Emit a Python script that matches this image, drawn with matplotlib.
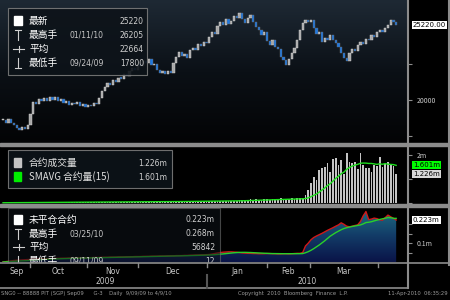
import numpy as np
import pandas as pd
import matplotlib
matplotlib.use("Agg")
import matplotlib.pyplot as plt
import matplotlib.transforms as mtransforms
from matplotlib.colors import LinearSegmentedColormap
from matplotlib.patches import Rectangle

plt.rcParams['font.family'] = ['Noto Sans CJK SC', 'DejaVu Sans']

# daily closes, 9/09/09 .. 4/09/10, one per trading day
close = [
    18610, 18420, 18700, 18380, 18250, 18020, 17880, 18100, 17960, 18240,
    19050, 19880, 19700, 20050, 19900, 20150, 19960, 20220, 20000, 20180,
    19920, 20050, 19780, 19940, 19650, 19820, 19700, 19850, 19560, 19700,
    19480, 19680, 19560, 19800, 19700, 20150, 20600, 20900, 21150, 21020,
    21380, 21250, 21560, 21480, 21800, 21700, 22050, 22200, 22100, 22480,
    22350, 22740, 22600, 22820, 22450, 22500, 22100, 21850, 22050, 21780,
    22000, 21900, 22600, 23000, 23350, 23050, 23200, 22950, 23450, 23600,
    23500, 23900, 23750, 24050, 23950, 24400, 24750, 24600, 25150, 25400,
    25250, 25650, 25300, 25500, 25850, 25700, 26080, 25650, 25380, 25720,
    25950, 25450, 25100, 24850, 24500, 24700, 24100, 23850, 24150, 23700,
    23550, 23000, 22750, 22450, 22850, 23300, 23650, 24200, 24850, 25350,
    25600, 25400, 25550, 25000, 24600, 24750, 24050, 24300, 24150, 24500,
    24200, 24000, 23700, 23300, 22950, 22700, 23250, 23550, 23400, 23850,
    24050, 23900, 24250, 24150, 24500, 24400, 24750, 24900, 24700, 25000,
    25250, 25550, 25400, 25220]

# contract volume, millions
volume = [
    0.01, 0.01, 0.02, 0.01, 0.02, 0.02, 0.03, 0.02, 0.02, 0.03,
    0.02, 0.03, 0.03, 0.02, 0.03, 0.03, 0.02, 0.03, 0.04, 0.03,
    0.03, 0.04, 0.03, 0.03, 0.04, 0.03, 0.04, 0.04, 0.03, 0.04,
    0.04, 0.03, 0.04, 0.05, 0.04, 0.04, 0.05, 0.04, 0.05, 0.04,
    0.05, 0.05, 0.04, 0.05, 0.05, 0.06, 0.05, 0.05, 0.06, 0.05,
    0.05, 0.06, 0.06, 0.05, 0.06, 0.06, 0.05, 0.06, 0.07, 0.06,
    0.06, 0.07, 0.06, 0.07, 0.07, 0.06, 0.07, 0.08, 0.07, 0.07,
    0.08, 0.07, 0.08, 0.08, 0.07, 0.09, 0.08, 0.09, 0.08, 0.09,
    0.09, 0.10, 0.09, 0.10, 0.10, 0.09, 0.11, 0.12, 0.14, 0.13,
    0.15, 0.12, 0.16, 0.14, 0.13, 0.17, 0.15, 0.14, 0.18, 0.16,
    0.15, 0.19, 0.17, 0.16, 0.18, 0.20, 0.17, 0.19, 0.21, 0.22,
    0.33, 0.54, 0.83, 1.08, 0.95, 1.37, 1.46, 1.50, 1.67, 1.30,
    1.83, 1.87, 1.58, 1.79, 1.20, 2.08, 1.71, 1.67, 1.71, 1.40,
    2.08, 1.58, 1.46, 1.46, 1.29, 1.58, 1.55, 1.92, 1.50, 1.62,
    1.71, 1.60, 1.55, 1.226]

# open interest, millions
open_int = [
    0.00001, 0.002, 0.004, 0.006, 0.008, 0.009, 0.010, 0.011, 0.012, 0.013,
    0.014, 0.015, 0.015, 0.016, 0.016, 0.017, 0.017, 0.018, 0.018, 0.019,
    0.019, 0.020, 0.020, 0.020, 0.021, 0.021, 0.021, 0.022, 0.022, 0.022,
    0.023, 0.023, 0.023, 0.024, 0.024, 0.024, 0.025, 0.025, 0.025, 0.026,
    0.026, 0.026, 0.027, 0.027, 0.027, 0.028, 0.028, 0.028, 0.029, 0.029,
    0.029, 0.030, 0.030, 0.030, 0.031, 0.031, 0.031, 0.032, 0.032, 0.032,
    0.033, 0.033, 0.033, 0.034, 0.034, 0.034, 0.035, 0.035, 0.036, 0.036,
    0.037, 0.037, 0.038, 0.038, 0.039, 0.040, 0.042, 0.045, 0.048, 0.050,
    0.052, 0.053, 0.054, 0.054, 0.053, 0.052, 0.050, 0.048, 0.047, 0.046,
    0.046, 0.045, 0.045, 0.044, 0.044, 0.044, 0.045, 0.045, 0.044, 0.044,
    0.043, 0.043, 0.044, 0.044, 0.043, 0.044, 0.045, 0.046, 0.046, 0.050,
    0.085, 0.100, 0.118, 0.130, 0.138, 0.145, 0.152, 0.160, 0.168, 0.175,
    0.182, 0.190, 0.197, 0.208, 0.200, 0.190, 0.187, 0.190, 0.194, 0.197,
    0.215, 0.245, 0.268, 0.225, 0.228, 0.233, 0.230, 0.224, 0.222, 0.235,
    0.249, 0.240, 0.232, 0.223]

# trading-day index where each month starts
month_starts = [0, 9.8, 30.5, 49.1, 74.2, 96, 111.6, 136.4]
month_names = ['Sep', 'Oct', 'Nov', 'Dec', 'Jan', 'Feb', 'Mar']
year_names = ['2009', '2010']

price_legend = [('最新', '', '25220'), ('最高手', '01/11/10', '26205'),
                ('平均', '', '22664'), ('最低手', '09/24/09', '17800')]
vol_legend = [('合约成交量', '1.226m'), ('SMAVG 合约量(15)', '1.601m')]
oi_legend = [('未平仓合约', '', '0.223m'), ('最高手', '03/25/10', '0.268m'),
             ('平均', '', '56842'), ('最低手', '09/11/09', '12')]

n = len(close)
x = np.arange(n)
opens = np.array([close[0]] + close[:-1])
closes = np.array(close)
vol_sma = pd.Series(volume).rolling(15, min_periods=1).mean()
oi_sma = pd.Series(open_int).rolling(10, min_periods=1).mean()

W, H = 450, 300
fig = plt.figure(figsize=(4.5, 3), dpi=100, facecolor='black')


def axes_px(l, t, r, b):
    return fig.add_axes([l / W, 1 - b / H, (r - l) / W, (b - t) / H])


ax_p = axes_px(0, 0, 408, 143)
ax_v = axes_px(0, 147, 408, 204)
ax_o = axes_px(0, 207, 408, 262)
xlim = (-1.1, 147.3)
grey = '#8c8c8c'

for ax in (ax_p, ax_v, ax_o):
    ax.set_facecolor('black')
    for s in ax.spines.values():
        s.set_visible(False)
    ax.yaxis.tick_right()
    ax.tick_params(axis='x', which='both', bottom=False, labelbottom=False)
    ax.tick_params(axis='y', which='both', colors=grey, labelcolor='#c8c8c8',
                   labelsize=5, length=3, width=0.8, pad=3)


def value_box(ax, y, s, fc, tc='black'):
    tr = mtransforms.blended_transform_factory(ax.transAxes, ax.transData)
    ax.text(1.012, y, s, transform=tr, fontsize=5, color=tc, va='center',
            ha='left', clip_on=False, family='DejaVu Sans',
            bbox=dict(boxstyle='square,pad=0.15', fc=fc, ec='none'))


# price panel
p_lo, p_hi = 17007, 26960
bg = LinearSegmentedColormap.from_list('bg', ['#030405', '#0b1016', '#1e2934'])
ax_p.imshow(np.linspace(0, 1, 200)[:, None], extent=[*xlim, p_lo, p_hi],
            origin='lower', aspect='auto', cmap=bg, zorder=0)
lo = np.minimum(closes, opens)
hgt = np.maximum(np.abs(closes - opens), 90)
up = closes >= opens
ax_p.bar(x[up], hgt[up], bottom=lo[up], width=0.85, color='#a8a8a8',
         edgecolor='#d8d8d8', linewidth=0.3, zorder=2)
ax_p.bar(x[~up], hgt[~up], bottom=lo[~up], width=0.85, color='#1f78e0',
         edgecolor='#6a6a6a', linewidth=0.3, zorder=2)
ax_p.set_xlim(xlim)
ax_p.set_ylim(p_lo, p_hi)
ax_p.set_yticks([20000], ['20000'])
ax_p.set_yticks([17500, 22500], minor=True)
value_box(ax_p, close[-1], f'{close[-1]:.2f}', 'white')

# volume panel
ax_v.bar(x, volume, width=0.6, color='#c4c4c4', edgecolor='none', zorder=2)
ax_v.plot(x, vol_sma, color='#1ee01e', lw=1, zorder=3)
ax_v.set_xlim(xlim)
ax_v.set_ylim(-0.042, 2.333)
ax_v.set_yticks([2.0], ['2m'])
ax_v.set_yticks([0, 1.0], minor=True)
value_box(ax_v, vol_sma.iloc[-1], vol_legend[1][1], '#00ff00')
value_box(ax_v, volume[-1], vol_legend[0][1], '#d8d8d8')

# open interest panel
oi_cm = LinearSegmentedColormap.from_list('oi', ['#0a1448', '#123a66', '#1d6a80'])
poly = ax_o.fill_between(x, 0, open_int, facecolor='none', edgecolor='none')
im = ax_o.imshow(np.linspace(0, 1, 200)[:, None],
                 extent=[x[0], x[-1], 0, max(open_int)], origin='lower',
                 aspect='auto', cmap=oi_cm, zorder=1)
im.set_clip_path(poly.get_paths()[0], transform=ax_o.transData)
ax_o.plot(x, open_int, color='#d01818', lw=1, zorder=3)
ax_o.plot(x, oi_sma, color='#2ad02a', lw=1, zorder=4)
ax_o.set_xlim(xlim)
ax_o.set_ylim(0, 0.292)
ax_o.set_yticks([0.1], ['0.1m'])
ax_o.set_yticks([0.05, 0.15, 0.2], minor=True)
value_box(ax_o, open_int[-1], oi_legend[0][2], 'white')

# overlay for frames, legends and date axis (pixel coords)
ov = fig.add_axes([0, 0, 1, 1], zorder=10)
ov.set_xlim(0, W)
ov.set_ylim(H, 0)
ov.axis('off')

ov.add_patch(Rectangle((0, 143), W, 3, color=grey, zorder=1))
ov.add_patch(Rectangle((0, 204), W, 3, color=grey, zorder=1))
ov.plot([407.5, 407.5], [0, 288], color=grey, lw=1.5, zorder=6)
ov.plot([448.5, 448.5], [0, 265], color=grey, lw=1.5, zorder=6)


def legend_box(l, t, r, b, alpha=0.9):
    ov.add_patch(Rectangle((l, t), r - l, b - t, fc='#0d1319', ec='#7a7a7a',
                           lw=0.8, alpha=alpha, zorder=2))


def legend_rows(rows, y0, dy, xv, sym):
    for i, (lab, date, val) in enumerate(rows):
        y = y0 + i * dy
        kind = sym[i]
        if kind == 'box':
            ov.add_patch(Rectangle((14, y - 5), 8, 9, color='white', zorder=3))
        elif kind == 'hi':
            ov.plot([15, 21], [y - 5, y - 5], color='#d0d0d0', lw=0.8, zorder=3)
            ov.plot([18, 18], [y - 5, y + 5], color='#d0d0d0', lw=0.8, zorder=3)
        elif kind == 'avg':
            ov.plot([13, 24], [y, y], color='#d0d0d0', lw=0.8, zorder=3)
            ov.plot([18.5, 18.5], [y - 3, y + 3], color='#d0d0d0', lw=0.8, zorder=3)
        elif kind == 'lo':
            ov.plot([15, 21], [y + 5, y + 5], color='#d0d0d0', lw=0.8, zorder=3)
            ov.plot([18, 18], [y - 5, y + 5], color='#d0d0d0', lw=0.8, zorder=3)
        ov.text(29, y, lab, fontsize=7, color='white', va='center', zorder=3)
        if date:
            ov.text(29 + 12 * len(lab) - 3 + 8, y, date, fontsize=5.5,
                    color='#c8c8c8', va='center', zorder=3, family='DejaVu Sans')
        ov.text(xv, y, val, fontsize=5.5, color='#d0d0d0', va='center',
                ha='right', zorder=3, family='DejaVu Sans')


sym = ['box', 'hi', 'avg', 'lo']
legend_box(8, 8, 147, 75)
legend_rows(price_legend, 21, 14, 144, sym)

legend_box(8, 150, 172, 188)
vol_cols = ['#c4c4c4', '#00ee00']
for i, (lab, val) in enumerate(vol_legend):
    y = 163 + i * 14
    ov.add_patch(Rectangle((14, y - 5), 7, 9, color=vol_cols[i], zorder=3))
    ov.text(29, y, lab, fontsize=7, color='#e0e0e0', va='center', zorder=3)
    ov.text(167, y, val, fontsize=5.5, color='#d0d0d0', va='center',
            ha='right', zorder=3, family='DejaVu Sans')

legend_box(8, 208, 220, 270, alpha=0.55)
legend_rows(oi_legend, 220, 13.7, 215, sym)

# date axis
ov.add_patch(Rectangle((0, 263), 407, 26, fc='black', ec='none', zorder=5))
ov.plot([0, W], [263, 263], color=grey, lw=1.2, zorder=6)
ov.plot([0, 407.5], [288, 288], color=grey, lw=1.2, zorder=6)
tr_d = mtransforms.blended_transform_factory(ax_o.transData, ov.transData)
for i, name in enumerate(month_names):
    mid = (month_starts[i] + month_starts[i + 1]) / 2
    ov.text(mid, 271, name, transform=tr_d, fontsize=5.5, color='#c8c8c8',
            ha='center', va='center', zorder=7, family='DejaVu Sans')
for m in month_starts[1:]:
    ov.plot([m, m], [263, 266.5], transform=tr_d, color=grey, lw=1, zorder=7)
jan = month_starts[4]
ov.plot([jan, jan], [275, 288], transform=tr_d, color='#555555', lw=1.5, zorder=7)
year_mid = [(month_starts[0] + jan) / 2, (jan + xlim[1]) / 2]
for ym, yn in zip(year_mid, year_names):
    ov.text(ym, 282, yn, transform=tr_d, fontsize=5.5, color='#c8c8c8',
            ha='center', va='center', zorder=7, family='DejaVu Sans')

# status line
st = dict(fontsize=3.8, color='#9a9a9a', va='center', family='DejaVu Sans')
ov.text(1, 294, 'SNG0 -- 88888 PIT (SGP) Sep09      G-3    Daily  9/09/09 to 4/9/10', **st)
ov.text(238, 294, 'Copyright  2010  Bloomberg  Finance  L.P.', **st)
ov.text(448, 294, '11-Apr-2010  06:35:29', ha='right', **st)

fig.savefig('out.png', dpi=100, facecolor='black')
